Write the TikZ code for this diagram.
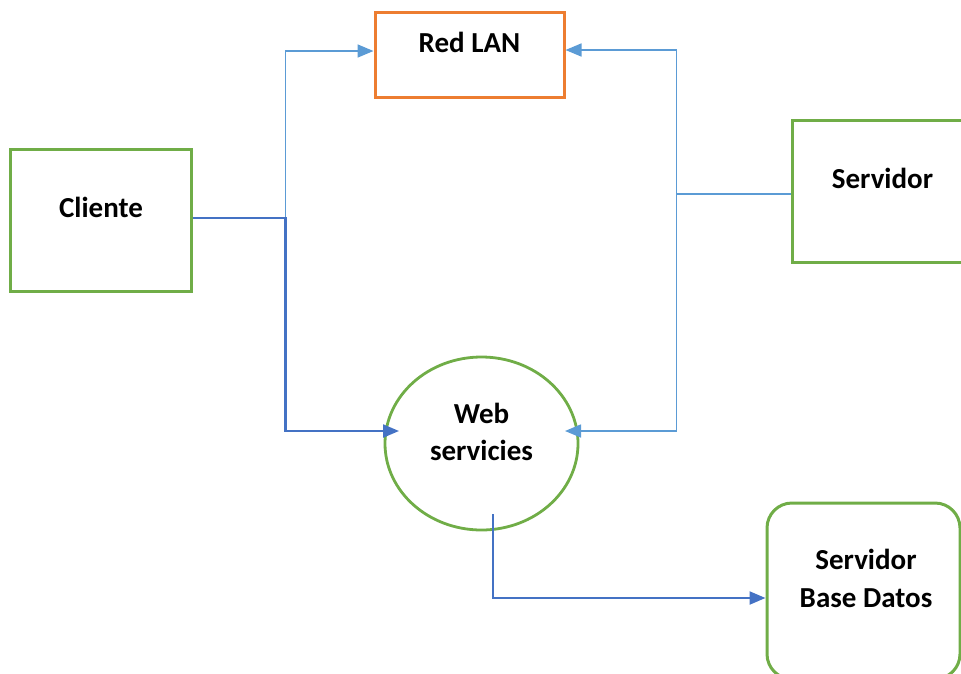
\documentclass[tikz,border=0pt]{standalone}
\usepackage{fontspec}
\setmainfont{Carlito}
\usetikzlibrary{arrows.meta,shapes.geometric,calc}
\definecolor{boxgreen}{HTML}{70AD47}
\definecolor{boxorange}{HTML}{ED7D31}
\definecolor{linklight}{HTML}{5B9BD5}
\definecolor{linkdark}{HTML}{4472C4}
\tikzset{
  greenbox/.style={draw=boxgreen, line width=3pt, rectangle, inner sep=0pt},
  lanbox/.style={draw=boxorange, line width=3pt, rectangle, inner sep=0pt},
  webshape/.style={draw=boxgreen, line width=2.8pt, ellipse, inner sep=0pt},
  dbbox/.style={draw=boxgreen, line width=3pt, rectangle, rounded corners=25pt, inner sep=0pt},
  lbl/.style={font=\bfseries\fontsize{29}{37}\selectfont, anchor=base, inner sep=0pt},
  lightlink/.style={draw=linklight, line width=1.6pt},
  darklink/.style={draw=linkdark, line width=2.2pt},
  tip/.style={-{Triangle[length=16pt,width=13pt]}},
}
\begin{document}
\begin{tikzpicture}[x=1pt,y=-1pt]
  \useasboundingbox (0,0) rectangle (961,673);
  \clip (0,0) rectangle (961,673);

  % boxes
  \node[lanbox, minimum width=189pt, minimum height=85pt] (lan) at (469.5,54.5) {};
  \node[greenbox, minimum width=181pt, minimum height=142pt] (cli) at (100.5,220) {};
  \node[greenbox, minimum width=210pt, minimum height=142pt] (srv) at (897,191) {};
  \node[webshape, minimum width=193pt, minimum height=173pt] (web) at (481.5,443.5) {};
  \node[dbbox, minimum width=193pt, minimum height=176pt] (db) at (863.5,591) {};

  % labels
  \node[lbl] (lanA) at (469.5,52) {Red LAN};
  \node[lbl] (cliA) at (101,217) {Cliente};
  \node[lbl] (srvA) at (882.5,188) {Servidor};
  \node[lbl] (webA) at (481.5,423) {Web};
  \node[lbl] (webB) at (481.5,460) {servicies};
  \node[lbl] (dbA) at (866,569) {Servidor};
  \node[lbl] (dbB) at (866,607) {Base Datos};

  % junction points and connector ends
  \coordinate (cj) at ($(cli.east)+(93,-2)$);
  \coordinate (sj) at ($(srv.west)+(-114,3)$);
  \coordinate (lanL) at ($(lan.west)+(0,-3.5)$);
  \coordinate (lanR) at ($(lan.east)+(0,-4.5)$);
  \coordinate (webL) at ($(web.center)+(-82.5,-12.5)$);
  \coordinate (webR) at ($(web.center)+(83.5,-12.5)$);
  \coordinate (webD) at ($(web.center)+(11.5,70.5)$);
  \coordinate (dbL) at ($(db.west)+(0,7)$);

  % connectors
  \draw[lightlink, tip] (cj) |- (lanL);
  \draw[darklink, tip] ($(cli.east)+(0,-2)$) -- (cj) |- (webL);
  \draw[lightlink, tip] ($(srv.west)+(0,3)$) -- (sj) |- (lanR);
  \draw[lightlink, tip] (sj) |- (webR);
  \draw[darklink, tip] (webD) |- (dbL);
\end{tikzpicture}
\end{document}
